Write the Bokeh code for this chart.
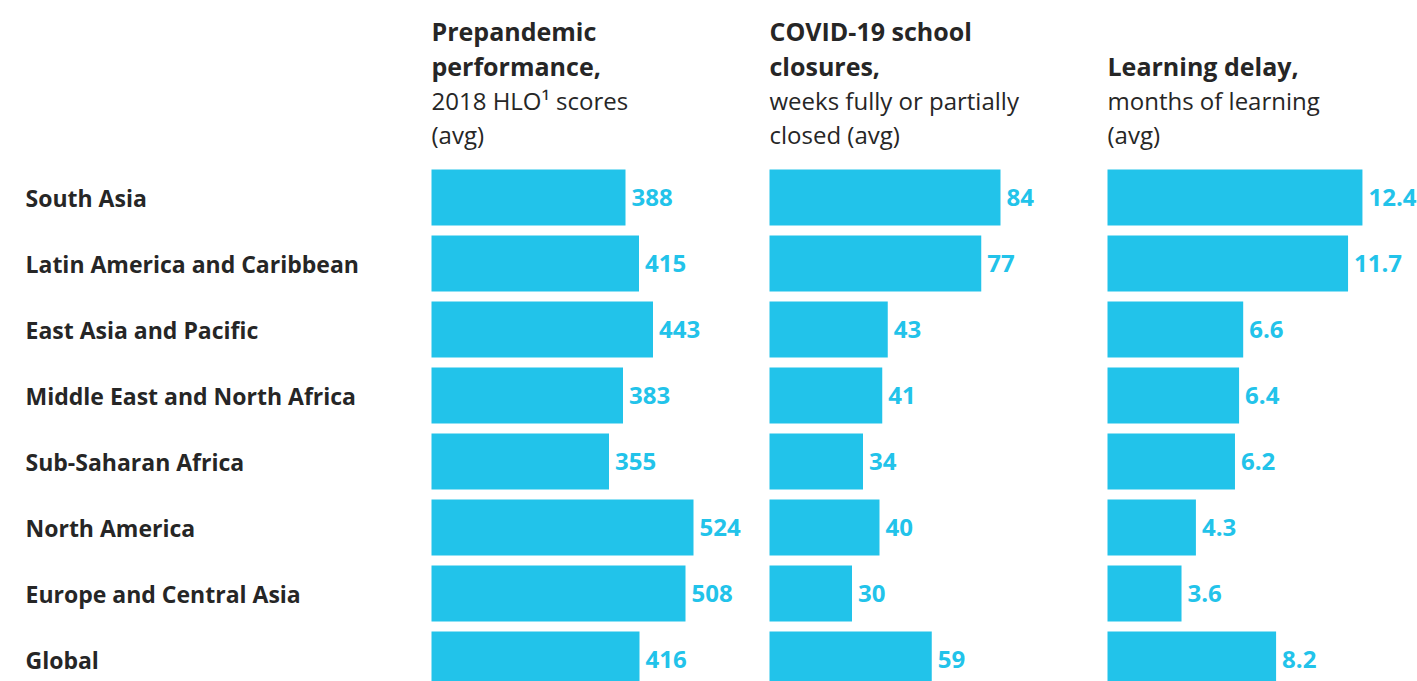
from bokeh.plotting import figure
from bokeh.models import Range1d, ColumnDataSource
from bokeh.core.properties import value
from bokeh.embed import file_html
from bokeh.resources import INLINE

# ---------------- data ----------------
regions = [
    "South Asia",
    "Latin America and Caribbean",
    "East Asia and Pacific",
    "Middle East and North Africa",
    "Sub-Saharan Africa",
    "North America",
    "Europe and Central Asia",
    "Global",
]
hlo_scores = [388, 415, 443, 383, 355, 524, 508, 416]
closure_weeks = [84, 77, 43, 41, 34, 40, 30, 59]
delay_months = [12.4, 11.7, 6.6, 6.4, 6.2, 4.3, 3.6, 8.2]

hlo_labels = [str(v) for v in hlo_scores]
closure_labels = [str(v) for v in closure_weeks]
delay_labels = [f"{v:.1f}" for v in delay_months]

headers = [
    (["Prepandemic", "performance,"], ["2018 HLO\u00b9 scores", "(avg)"]),
    (["COVID-19 school", "closures,"], ["weeks fully or partially", "closed (avg)"]),
    (["Learning delay,"], ["months of learning", "(avg)"]),
]

# ---------------- layout ----------------
W, H = 1417, 681
OFF = 0  # figure sits at the page origin
BAR = "#22C3EA"
TXT = "#262626"
FONT = "Open Sans"

ROW0, PITCH = 197, 66


def row_of(px):
    return (px - ROW0) / PITCH


def panel_range(zero_px, px_per_unit):
    start = -(zero_px - OFF) / px_per_unit
    return Range1d(start=start, end=start + W / px_per_unit)


p = figure(
    width=W, height=H, output_backend="svg", toolbar_location=None,
    x_range=Range1d(0, W),
    y_range=Range1d(start=row_of(OFF + H), end=row_of(OFF)),
    min_border=0, min_border_left=0, min_border_right=0,
    min_border_top=0, min_border_bottom=0,
)
p.axis.visible = False
p.grid.visible = False
p.outline_line_color = None
p.background_fill_color = "white"
p.border_fill_color = "white"

panels = [
    ("p1", panel_range(431, 0.5), hlo_scores, hlo_labels),
    ("p2", panel_range(769, 2.75), closure_weeks, closure_labels),
    ("p3", panel_range(1107, 20.56), delay_months, delay_labels),
]
for name, rng, _, _ in panels:
    p.extra_x_ranges[name] = rng

ys = list(range(len(regions)))

# category labels
p.text(x=[25 - OFF] * len(regions), y=ys, text=regions,
       text_font=value(FONT), text_font_style="bold", text_font_size="23px",
       text_color=TXT, text_baseline="middle", text_align="left")

header_rows = [row_of(30), row_of(65), row_of(100), row_of(134)]

for (name, rng, vals, labels), (bold_lines, normal_lines) in zip(panels, headers):
    src = ColumnDataSource(dict(y=ys, v=vals, lab=labels))
    p.hbar(y="y", left=0, right="v", height=56 / PITCH, source=src,
           fill_color=BAR, line_color=None, x_range_name=name)
    p.text(x="v", y="y", text="lab", source=src, x_offset=6,
           text_font=value(FONT), text_font_style="bold", text_font_size="24px",
           text_color=BAR, text_baseline="middle", text_align="left",
           x_range_name=name)
    n = len(bold_lines) + len(normal_lines)
    rows = header_rows[len(header_rows) - n:]
    p.text(x=[0] * len(bold_lines), y=rows[:len(bold_lines)], text=bold_lines,
           text_font=value(FONT), text_font_style="bold", text_font_size="25px",
           text_color=TXT, text_baseline="middle", text_align="left",
           x_range_name=name)
    p.text(x=[0] * len(normal_lines), y=rows[len(bold_lines):], text=normal_lines,
           text_font=value(FONT), text_font_style="normal", text_font_size="24px",
           text_color=TXT, text_baseline="middle", text_align="left",
           x_range_name=name)

open("out.html", "w").write(file_html(p, INLINE))
